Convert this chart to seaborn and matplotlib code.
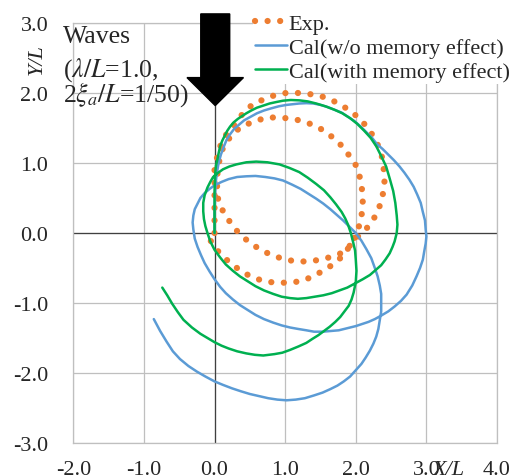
import numpy as np
import pandas as pd
import matplotlib
matplotlib.use("Agg")
import matplotlib.pyplot as plt
import seaborn as sns

# trajectory (X/L, Y/L)
exp_x = [0.0, 0.0, 0.0, 0.0, 0.05, 0.12, 0.26, 0.36, 0.55, 0.83, 1.01, 1.21, 1.38, 1.56, 1.74, 1.90,
         2.05, 2.18, 2.28, 2.36, 2.39, 2.41, 2.39, 2.34, 2.27, 2.15, 2.00, 1.90, 1.82, 1.73, 1.56,
         1.38, 1.19, 1.00, 0.82, 0.65, 0.49, 0.35, 0.23, 0.12, 0.05, 0.03, 0.06, 0.12, 0.24, 0.38,
         0.55, 0.74, 0.92, 1.11, 1.28, 1.47, 1.62, 1.77, 1.89, 2.00, 2.06, 2.09, 2.10, 2.08, 2.03,
         1.95, 1.84, 1.71, 1.55, 1.40, 1.22, 1.04, 0.85, 0.67, 0.49, 0.33, 0.18, 0.05, -0.07]
exp_y = [0.0, 0.3, 0.6, 0.9, 1.15, 1.35, 1.52, 1.66, 1.85, 1.96, 2.00, 2.00, 1.98, 1.94, 1.86, 1.76,
         1.64, 1.49, 1.33, 1.15, 0.96, 0.77, 0.58, 0.39, 0.23, 0.06, -0.08, -0.20, -0.28, -0.31, -0.37,
         -0.40, -0.41, -0.38, -0.32, -0.24, -0.13, -0.01, 0.14, 0.31, 0.49, 0.75, 1.00, 1.22, 1.40, 1.52,
         1.59, 1.65, 1.65, 1.63, 1.59, 1.51, 1.41, 1.28, 1.13, 0.97, 0.79, 0.61, 0.42, 0.23, 0.04,
         -0.13, -0.30, -0.43, -0.53, -0.62, -0.69, -0.71, -0.71, -0.68, -0.61, -0.51, -0.39, -0.26, -0.09]

nomem_x = [0.0, 0.0, 0.01, 0.02, 0.04, 0.06, 0.09, 0.13, 0.17, 0.22, 0.28, 0.35, 0.42, 0.51, 0.60,
           0.70, 0.80, 0.91, 1.02, 1.11, 1.20, 1.30, 1.40, 1.50, 1.60, 1.70, 1.80, 1.89, 1.98, 2.07,
           2.15, 2.23, 2.30, 2.38, 2.46, 2.54, 2.62, 2.69, 2.76, 2.82, 2.87, 2.92, 2.95, 2.98, 2.99,
           3.00, 2.99, 2.97, 2.95, 2.91, 2.86, 2.80, 2.72, 2.64, 2.55, 2.46, 2.36, 2.27, 2.18, 2.09,
           2.00, 1.88, 1.76, 1.65, 1.53, 1.41, 1.30, 1.18, 1.07, 0.95, 0.83, 0.70, 0.58, 0.47, 0.36,
           0.26, 0.16, 0.08, 0.00, -0.07, -0.14, -0.19, -0.24, -0.28, -0.30, -0.31, -0.30, -0.28,
           -0.24, -0.20, -0.14, -0.07, 0.00, 0.10, 0.20, 0.32, 0.45, 0.58, 0.72, 0.85, 0.97, 1.10,
           1.22, 1.33, 1.44, 1.54, 1.64, 1.73, 1.82, 1.91, 2.00, 2.08, 2.15, 2.22, 2.27, 2.31, 2.34,
           2.36, 2.36, 2.36, 2.34, 2.32, 2.29, 2.25, 2.20, 2.14, 2.08, 2.00, 1.92, 1.83, 1.74, 1.64,
           1.53, 1.41, 1.28, 1.15, 1.02, 0.89, 0.76, 0.63, 0.50, 0.37, 0.25, 0.12, 0.00, -0.13,
           -0.25, -0.37, -0.49, -0.59, -0.68, -0.77, -0.86]
nomem_y = [0.0, 0.3, 0.6, 0.75, 0.90, 1.01, 1.12, 1.23, 1.33, 1.41, 1.49, 1.55, 1.61, 1.66, 1.71,
           1.75, 1.78, 1.81, 1.83, 1.84, 1.85, 1.855, 1.85, 1.83, 1.80, 1.76, 1.72, 1.66, 1.60, 1.52,
           1.44, 1.36, 1.27, 1.20, 1.12, 1.04, 0.95, 0.86, 0.76, 0.66, 0.55, 0.43, 0.30, 0.18, 0.05,
           -0.05, -0.15, -0.26, -0.38, -0.50, -0.62, -0.75, -0.88, -0.97, -1.05, -1.12, -1.18, -1.23, -1.27, -1.30,
           -1.33, -1.36, -1.39, -1.40, -1.41, -1.41, -1.39, -1.37, -1.35, -1.32, -1.28, -1.23, -1.17, -1.10, -1.03,
           -0.95, -0.86, -0.77, -0.66, -0.55, -0.43, -0.32, -0.20, -0.08, 0.05, 0.15, 0.25, 0.34,
           0.42, 0.50, 0.57, 0.63, 0.68, 0.73, 0.77, 0.80, 0.81, 0.815, 0.80, 0.78, 0.75, 0.69,
           0.63, 0.56, 0.49, 0.42, 0.34, 0.26, 0.18, 0.09, 0.00, -0.11, -0.23, -0.36, -0.50, -0.62, -0.75,
           -0.87, -1.00, -1.12, -1.25, -1.37, -1.48, -1.58, -1.68, -1.78, -1.87, -1.96, -2.05, -2.12, -2.18, -2.23,
           -2.28, -2.32, -2.36, -2.38, -2.39, -2.38, -2.36, -2.33, -2.30, -2.26, -2.22, -2.17, -2.12, -2.05,
           -1.98, -1.90, -1.80, -1.69, -1.55, -1.40, -1.23]

mem_x = [0.0, 0.0, 0.0, 0.01, 0.02, 0.04, 0.06, 0.08, 0.11, 0.15, 0.18, 0.22, 0.27, 0.33, 0.39,
         0.45, 0.52, 0.60, 0.69, 0.78, 0.87, 0.97, 1.08, 1.20, 1.32, 1.44, 1.57, 1.70, 1.81, 1.92,
         2.02, 2.12, 2.21, 2.29, 2.36, 2.43, 2.48, 2.53, 2.56, 2.58, 2.59, 2.58, 2.55, 2.52, 2.48,
         2.42, 2.36, 2.28, 2.20, 2.10, 1.99, 1.88, 1.77, 1.66, 1.54, 1.42, 1.30, 1.18, 1.07, 0.95,
         0.83, 0.70, 0.58, 0.47, 0.36, 0.26, 0.16, 0.08, 0.00, -0.06, -0.10, -0.13, -0.15, -0.16,
         -0.16, -0.14, -0.10, -0.06, -0.02, 0.05, 0.12, 0.21, 0.31, 0.45, 0.59, 0.75, 0.92, 1.06,
         1.20, 1.32, 1.44, 1.55, 1.64, 1.72, 1.80, 1.85, 1.89, 1.93, 1.96, 1.99, 2.00, 2.01, 2.00,
         1.97, 1.94, 1.90, 1.84, 1.78, 1.71, 1.63, 1.55, 1.47, 1.39, 1.30, 1.19, 1.07, 0.96, 0.85,
         0.69, 0.57, 0.45, 0.32, 0.20, 0.10, 0.00, -0.10, -0.20, -0.32, -0.44, -0.52, -0.60, -0.67,
         -0.74]
mem_y = [0.0, 0.3, 0.6, 0.86, 0.96, 1.05, 1.15, 1.24, 1.32, 1.40, 1.46, 1.52, 1.58, 1.63, 1.67,
         1.71, 1.75, 1.79, 1.82, 1.85, 1.87, 1.89, 1.90, 1.895, 1.88, 1.85, 1.81, 1.76, 1.71, 1.64,
         1.56, 1.46, 1.36, 1.24, 1.10, 0.95, 0.78, 0.60, 0.43, 0.25, 0.12, 0.00, -0.12, -0.20, -0.29,
         -0.38, -0.46, -0.53, -0.60, -0.66, -0.72, -0.78, -0.82, -0.86, -0.89, -0.91, -0.93, -0.94, -0.93, -0.91,
         -0.87, -0.82, -0.76, -0.69, -0.62, -0.54, -0.45, -0.35, -0.24, -0.12, 0.00, 0.10, 0.20, 0.31,
         0.43, 0.54, 0.65, 0.73, 0.80, 0.86, 0.91, 0.95, 0.98, 1.01, 1.02, 1.01, 0.98, 0.93,
         0.87, 0.79, 0.70, 0.61, 0.51, 0.41, 0.30, 0.21, 0.12, 0.00, -0.12, -0.25, -0.38, -0.54, -0.70,
         -0.85, -0.95, -1.04, -1.12, -1.20, -1.27, -1.34, -1.40, -1.46, -1.51, -1.57, -1.62, -1.67, -1.71, -1.73,
         -1.75, -1.74, -1.72, -1.69, -1.65, -1.61, -1.56, -1.50, -1.44, -1.35, -1.24, -1.13, -1.01, -0.89,
         -0.78]

xticks = [-2.0, -1.0, 0.0, 1.0, 2.0, 3.0, 4.0]
xtick_labels = ["-2.0", "-1.0", "0.0", "1.0", "2.0", "3.0", "4.0"]
yticks = [-3.0, -2.0, -1.0, 0.0, 1.0, 2.0, 3.0]
ytick_labels = ["-3.0", "-2.0", "-1.0", "0.0", "1.0", "2.0", "3.0"]
note_lines = ["Waves", "(" + r"$\lambda/L$" + "=1.0,", "2" + r"$\xi_a/L$" + "=1/50)"]

sns.set_style("white")
plt.rcParams["font.family"] = ["Liberation Serif", "DejaVu Serif"]
plt.rcParams["mathtext.fontset"] = "stix"
plt.rcParams["axes.unicode_minus"] = False
fs = 16
fs_note = 18.5

fig = plt.figure(figsize=(5.13, 4.77), dpi=100)
ax = fig.add_axes([73.3 / 513, 33 / 477, 423.7 / 513, 420 / 477])

sns.lineplot(x=exp_x, y=exp_y, sort=False, estimator=None, ax=ax, color="#ED7D31",
             lw=4.5, linestyle=(0, (0.01, 2.0)), dash_capstyle="round", label="Exp.", zorder=3)
sns.lineplot(x=nomem_x, y=nomem_y, sort=False, estimator=None, ax=ax, color="#5B9BD5",
             lw=1.8, label="Cal(w/o memory effect)", zorder=4)
sns.lineplot(x=mem_x, y=mem_y, sort=False, estimator=None, ax=ax, color="#00B050",
             lw=1.8, label="Cal(with memory effect)", zorder=5)

ax.set_xlim(-2, 4)
ax.set_ylim(-3, 3)
ax.set_xticks(xticks)
ax.set_xticklabels(xtick_labels, fontsize=fs)
ax.set_yticks(yticks)
ax.set_yticklabels(ytick_labels, fontsize=fs)
ax.tick_params(axis="both", length=0)
ax.tick_params(axis="x", pad=12)
ax.tick_params(axis="y", pad=18)
ax.grid(True, color="#BFBFBF", lw=0.9)
ax.set_axisbelow(True)
for s in ax.spines.values():
    s.set_color("#BFBFBF")
    s.set_linewidth(0.9)
ax.axhline(0, color="#404040", lw=0.9, zorder=2)
ax.axvline(0, color="#404040", lw=0.9, zorder=2)
ax.set_xlabel("")
ax.set_ylabel("")

# incoming wave direction arrow
ax.arrow(0.01, 3.13, 0, -1.31, width=0.41, head_width=0.80, head_length=0.40,
         length_includes_head=True, color="black", clip_on=False, zorder=6)

h, l = ax.get_legend_handles_labels()
ax.get_legend().remove()
leg = fig.legend(h, l, loc="upper left", bbox_to_anchor=(253 / 513, 1 - 12 / 477),
                 fontsize=fs, frameon=True, facecolor="white", edgecolor="none", framealpha=1,
                 fancybox=False, borderpad=0.1, borderaxespad=0, handlelength=1.45,
                 handletextpad=0.05, labelspacing=0.15)

for txt, base in zip(note_lines, [43, 77, 102]):
    fig.text(63 / 513, 1 - base / 477, txt, ha="left", va="baseline", fontsize=fs_note)
fig.text(37 / 513, 1 - 60 / 477, "Y/L", rotation=90, style="italic", fontsize=fs,
         ha="center", va="center")
fig.text(449 / 513, 1 - 471 / 477, "X/L", style="italic", fontsize=fs, ha="center", va="center")

fig.savefig("out.png", dpi=100, facecolor="white")
